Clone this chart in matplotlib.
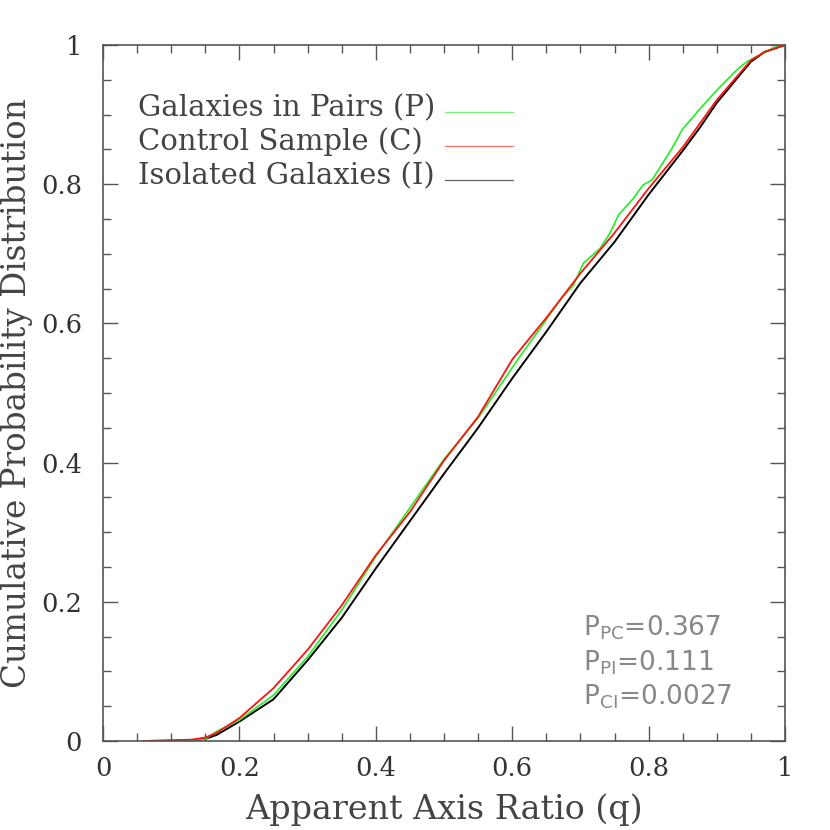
import matplotlib
matplotlib.use('Agg')
import matplotlib.pyplot as plt
from matplotlib.ticker import MultipleLocator

# cumulative distributions
q_pairs = [0.11, 0.13, 0.15, 0.167, 0.20, 0.25, 0.30, 0.35, 0.40, 0.45, 0.50, 0.55,
           0.611, 0.641, 0.672, 0.690, 0.704, 0.729, 0.743, 0.756, 0.778, 0.792,
           0.805, 0.834, 0.849, 0.875, 0.90, 0.929, 0.944, 0.983, 1.0]
f_pairs = [0.0, 0.001, 0.003, 0.014, 0.030, 0.066, 0.121, 0.188, 0.265, 0.335, 0.405, 0.464,
           0.552, 0.593, 0.636, 0.655, 0.686, 0.708, 0.729, 0.756, 0.780, 0.799,
           0.806, 0.851, 0.878, 0.908, 0.935, 0.964, 0.976, 0.996, 1.0]

q_control = [0.06, 0.10, 0.13, 0.15, 0.167, 0.20, 0.25, 0.30, 0.35, 0.40, 0.45, 0.50,
             0.55, 0.60, 0.65, 0.70, 0.75, 0.80, 0.85, 0.875, 0.90, 0.95, 0.97, 1.0]
f_control = [0.0, 0.001, 0.002, 0.005, 0.012, 0.033, 0.076, 0.131, 0.195, 0.267, 0.329, 0.403,
             0.466, 0.548, 0.608, 0.672, 0.730, 0.794, 0.853, 0.887, 0.921, 0.978, 0.99, 1.0]

q_isolated = [0.06, 0.10, 0.13, 0.15, 0.167, 0.20, 0.25, 0.30, 0.35, 0.40, 0.45, 0.50,
              0.55, 0.60, 0.65, 0.70, 0.75, 0.80, 0.85, 0.875, 0.90, 0.95, 0.97, 1.0]
f_isolated = [0.0, 0.0005, 0.001, 0.003, 0.009, 0.028, 0.060, 0.116, 0.177, 0.248, 0.316, 0.384,
              0.450, 0.521, 0.588, 0.658, 0.717, 0.785, 0.848, 0.881, 0.917, 0.976, 0.99, 1.0]

ticks = [0, 0.2, 0.4, 0.6, 0.8, 1.0]
tick_labels = ['0', '0.2', '0.4', '0.6', '0.8', '1']

labels = ['Galaxies in Pairs (P)', 'Control Sample (C)', 'Isolated Galaxies (I)']
colors = ['#22ee22', '#ff1111', '#000000']
ks_text = [r'P$_{\rm PC}$=0.367', r'P$_{\rm PI}$=0.111', r'P$_{\rm CI}$=0.0027']

serif = ['DejaVu Serif']

fig = plt.figure(figsize=(8.3, 8.3), dpi=100)
ax = fig.add_axes([0.1241, 0.1072, 0.8217, 0.8386])

ax.plot(q_isolated, f_isolated, color=colors[2], lw=1.4)
ax.plot(q_pairs, f_pairs, color=colors[0], lw=1.2)
ax.plot(q_control, f_control, color=colors[1], lw=1.3)

ax.set_xlim(0, 1)
ax.set_ylim(0, 1)
ax.set_xticks(ticks)
ax.set_yticks(ticks)
ax.xaxis.set_minor_locator(MultipleLocator(0.05))
ax.yaxis.set_minor_locator(MultipleLocator(0.05))
ax.set_xticklabels(tick_labels)
ax.set_yticklabels(tick_labels)
ax.tick_params(which='both', direction='in', top=True, right=True, color='#555')
ax.tick_params(which='major', length=11, width=1)
ax.tick_params(which='minor', length=6, width=1)
ax.tick_params(axis='x', which='major', pad=11)
ax.tick_params(axis='y', which='major', pad=15)
for lab in ax.get_xticklabels() + ax.get_yticklabels():
    lab.set_family(serif)
    lab.set_fontsize(18.5)
    lab.set_color('#333')
for s in ax.spines.values():
    s.set_color('#555')
    s.set_linewidth(1.2)

ax.set_xlabel('Apparent Axis Ratio (q)', family=serif, fontsize=24, color='#444', labelpad=9)
fig.text(17 / 830, 1 - 393 / 830, 'Cumulative Probability Distribution',
         family=serif, fontsize=23.5, color='#444', rotation=90, ha='center', va='center')

# legend drawn by hand, text then line sample
for i, (lab, c) in enumerate(zip(labels, colors)):
    yb = 0.898 - i * 0.049
    ax.text(0.051, yb, lab, family=serif, fontsize=21, color='#444', va='baseline')
    ax.plot([0.501, 0.601], [yb + 0.006, yb + 0.006], color=c, lw=0.9, alpha=0.6)

for i, t in enumerate(ks_text):
    ax.text(0.704, 0.152 - i * 0.05, t, fontsize=19, color='#888', va='baseline')

fig.savefig('out.png', dpi=100)
